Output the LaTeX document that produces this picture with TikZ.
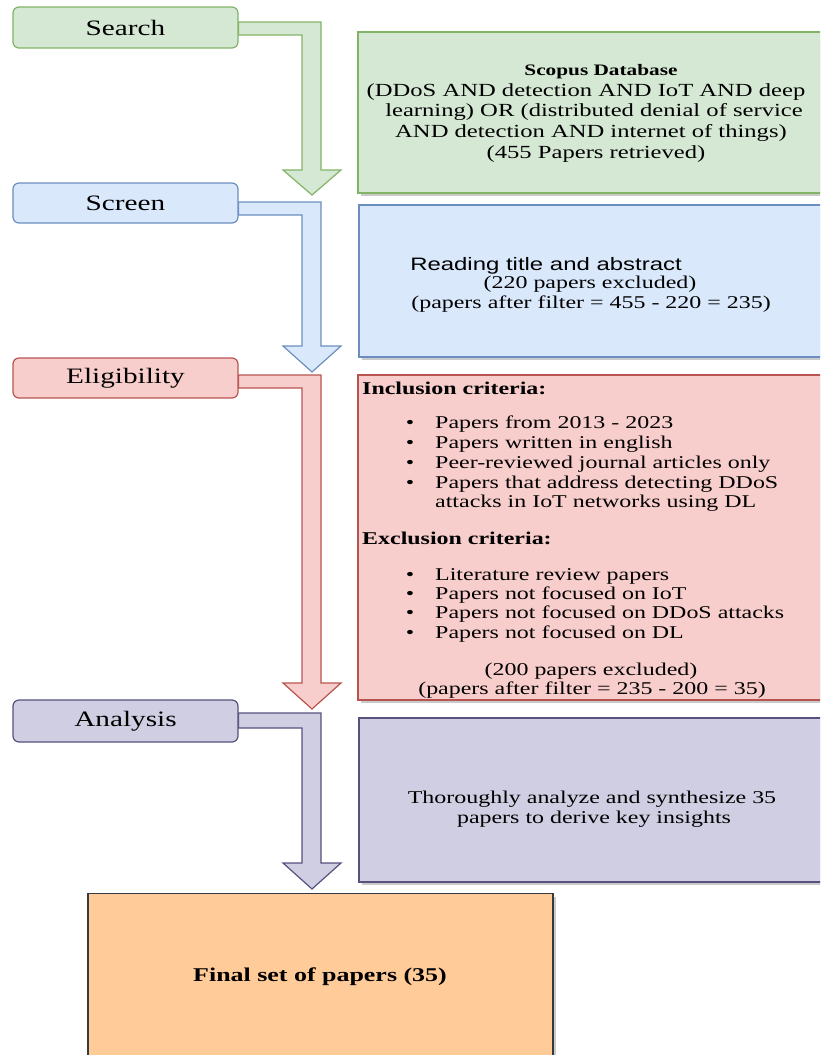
\documentclass[tikz,border=0pt]{standalone}
\usepackage{graphicx}
\usepackage{fontspec}
\setmainfont{Liberation Serif}
\newfontfamily\helv{Liberation Sans}
\usetikzlibrary{shadows,backgrounds}
\newcommand{\sx}[1]{\scalebox{1.33}[1]{#1}}
\definecolor{gfill}{HTML}{D5E8D4}\definecolor{gline}{HTML}{82B366}
\definecolor{bfill}{HTML}{DAE8FC}\definecolor{bline}{HTML}{6C8EBF}
\definecolor{rfill}{HTML}{F8CECC}\definecolor{rline}{HTML}{B85450}
\definecolor{pfill}{HTML}{D0CEE2}\definecolor{pline}{HTML}{56517E}
\definecolor{ofill}{HTML}{FFCC99}\definecolor{oline}{HTML}{36393D}
\newcommand{\flowarrow}[6]{%
  \coordinate (fa1) at (0,#3);
  \coordinate (fa2) at (0,#4);
  \draw[#1, line width=1.2pt, line join=miter] (#2.east |- fa1) -- (321,#3) -- (321,#5) -- (341,#5) -- (312,#6) -- (283,#5) -- (302,#5) -- (302,#4) -- (#2.east |- fa2) -- cycle;}
\begin{document}
\begin{tikzpicture}[x=1pt,y=-1pt,
  stage/.style={draw, rounded corners=6pt, minimum width=225pt, minimum height=40pt, inner sep=0pt, line width=1.2pt, font=\fontsize{22}{26}\selectfont},
  desc/.style={draw, line width=1.2pt, inner sep=0pt, drop shadow={shadow xshift=3pt, shadow yshift=-3pt, fill=black!35, opacity=0.6}},
  txt/.style={inner sep=0pt, font=\fontsize{18}{20}\selectfont},
  ln/.style={txt, anchor=base west},
  mid/.style={txt, anchor=base}]
\useasboundingbox (0,0) rectangle (820,1055);
\clip (0,0) rectangle (820,1055);

% stages
\node[stage, fill=gfill, draw=gline, minimum height=41pt] (search) at (125.5,27.5) {\sx{Search}};
\node[stage, fill=bfill, draw=bline] (screen) at (125.5,203) {\sx{Screen}};
\node[stage, fill=rfill, draw=rline] (elig) at (125.5,378) {\sx{Eligibility}};
\node[stage, fill=pfill, draw=pline, minimum height=42pt] (anal) at (125.5,721) {\sx{Analysis}};

\begin{pgfonlayer}{background}
\flowarrow{fill=gfill,draw=gline}{search}{22}{35}{170}{195}
\flowarrow{fill=bfill,draw=bline}{screen}{202}{215}{346}{372}
\flowarrow{fill=rfill,draw=rline}{elig}{375}{388}{683}{709}
\flowarrow{fill=pfill,draw=pline}{anal}{713}{728}{863}{889}
\end{pgfonlayer}

% Search description
\node[desc, fill=gfill, draw=gline, minimum width=468pt, minimum height=161pt] (scopus) at (592,112.5) {};
\node[mid] (s1) at (601,75) {\sx{\fontsize{16}{20}\selectfont\textbf{Scopus Database}}};
\node[mid, font=\fontsize{18.5}{20}\selectfont] (s2) at (586,96) {\sx{(DDoS AND detection AND IoT AND deep}};
\node[mid, font=\fontsize{18.5}{20}\selectfont] (s3) at (594,116) {\sx{learning) OR (distributed denial of service}};
\node[mid, font=\fontsize{18.5}{20}\selectfont] (s4) at (591,137) {\sx{AND detection AND internet of things)}};
\node[mid, font=\fontsize{18.5}{20}\selectfont] (s5) at (596,158) {\sx{(455 Papers retrieved)}};

% Screen description
\node[desc, fill=bfill, draw=bline, minimum width=467pt, minimum height=152pt] (screendesc) at (592.5,281) {};
\node[mid, font=\helv\fontsize{18}{20}\selectfont] (r1) at (546,270) {\sx{Reading title and abstract}};
\node[mid] (r2) at (590,288) {\sx{(220 papers excluded)}};
\node[mid] (r3) at (591,308) {\sx{(papers after filter = 455 - 220 = 235)}};

% Eligibility description
\node[desc, fill=rfill, draw=rline, minimum width=468pt, minimum height=325pt] (eligdesc) at (592,537.5) {};
\node[ln] (inc) at (362,394) {\sx{\textbf{Inclusion criteria:}}};
\node[mid] (ib1) at (410,428) {\sx{•}};
\node[ln] (i1) at (435,428) {\sx{Papers from 2013 - 2023}};
\node[mid] (ib2) at (410,448) {\sx{•}};
\node[ln] (i2) at (435,448) {\sx{Papers written in english}};
\node[mid] (ib3) at (410,468) {\sx{•}};
\node[ln] (i3) at (435,468) {\sx{Peer-reviewed journal articles only}};
\node[mid] (ib4) at (410,488) {\sx{•}};
\node[ln] (i4) at (435,488) {\sx{Papers that address detecting DDoS}};
\node[ln] (i5) at (435,507) {\sx{attacks in IoT networks using DL}};
\node[ln] (exc) at (362,544) {\sx{\textbf{Exclusion criteria:}}};
\node[mid] (eb1) at (410,580) {\sx{•}};
\node[ln] (e1) at (435,580) {\sx{Literature review papers}};
\node[mid] (eb2) at (410,599) {\sx{•}};
\node[ln] (e2) at (435,599) {\sx{Papers not focused on IoT}};
\node[mid] (eb3) at (410,618) {\sx{•}};
\node[ln] (e3) at (435,618) {\sx{Papers not focused on DDoS attacks}};
\node[mid] (eb4) at (410,638) {\sx{•}};
\node[ln] (e4) at (435,638) {\sx{Papers not focused on DL}};
\node[mid] (x1) at (591,675) {\sx{(200 papers excluded)}};
\node[mid] (x2) at (592,694) {\sx{(papers after filter = 235 - 200 = 35)}};

% Analysis description
\node[desc, fill=pfill, draw=pline, minimum width=467pt, minimum height=164pt] (analdesc) at (592.5,800) {};
\node[mid] (a1) at (592,803) {\sx{Thoroughly analyze and synthesize 35}};
\node[mid] (a2) at (594,823) {\sx{papers to derive key insights}};

% Final
\node[desc, fill=ofill, draw=oline, minimum width=465pt, minimum height=180pt, anchor=north] (final) at (320.5,893) {};
\node[mid, font=\fontsize{19.5}{20}\selectfont] (ft) at (320,981) {\sx{\textbf{Final set of papers (35)}}};
\end{tikzpicture}
\end{document}
